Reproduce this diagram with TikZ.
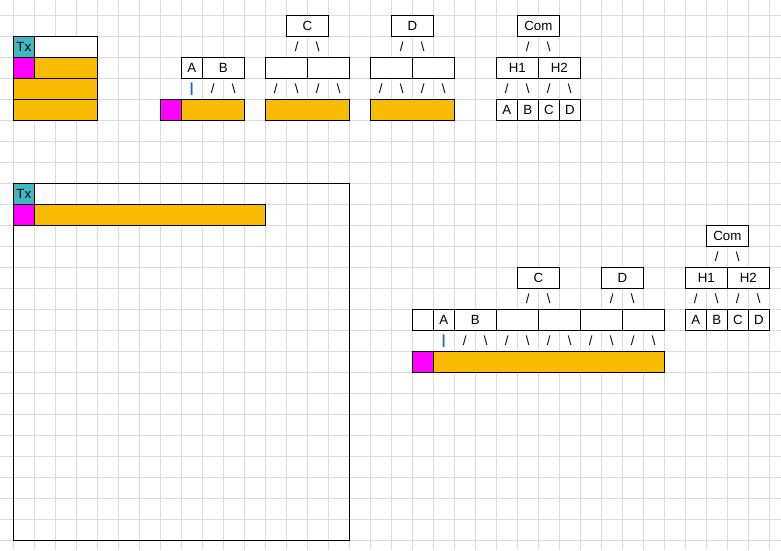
\documentclass[tikz,border=0pt]{standalone}
\usepackage{fontspec}
\setmainfont{Liberation Sans}
\definecolor{gridgray}{RGB}{220,220,220}
\definecolor{txcyan}{RGB}{64,184,196}
\definecolor{barorange}{RGB}{250,188,2}
\definecolor{mgfill}{RGB}{255,0,255}
\definecolor{pipeblue}{RGB}{26,100,200}
\begin{document}
\begin{tikzpicture}[x=0.5cm,y=-0.5cm,
  font=\fontsize{9}{10}\selectfont,
  gridline/.style={draw=gridgray,line width=0.9pt},
  cell/.style={draw=black,line width=1pt,fill=white,minimum height=0.5cm,
    inner sep=0pt,outer sep=0pt,anchor=north west,text=black},
  cols/.style={minimum width=#1*0.5cm},
  tx/.style={cell,fill=txcyan,cols=1},
  mg/.style={cell,fill=mgfill,cols=1},
  org/.style={cell,fill=barorange},
  frame/.style={draw=black,line width=1pt,inner sep=0pt,outer sep=0pt,anchor=north west},
  glyph/.style={inner sep=0pt,text=black},
  pipe/.style={glyph,text=pipeblue,font=\fontsize{9}{10}\selectfont\bfseries}]
\useasboundingbox (-0.633,-0.729) rectangle (36.557,25.462);
% background grid
\foreach \i in {0,...,36} \draw[gridline] (\i,-0.729) -- (\i,25.462);
\foreach \j in {0,...,25} \draw[gridline] (-0.633,\j) -- (36.557,\j);

% --- top-left stack
\node[tx] (txa) at (0,1) {Tx};
\node[cell,cols=3] (hda) at (1,1) {};
\node[mg] (mga) at (0,2) {};
\node[org,cols=3] (ora) at (1,2) {};
\node[org,cols=4] (orb) at (0,3) {};
\node[org,cols=4] (orc) at (0,4) {};

% --- A/B over one bar
\node[cell,cols=1] (ab-a) at (8,2) {A};
\node[cell,cols=2] (ab-b) at (9,2) {B};
\node[pipe] (ab-p) at (8.5,3.5) {|};
\node[glyph] (ab-s1) at (9.5,3.5) {/};
\node[glyph] (ab-s2) at (10.5,3.5) {\textbackslash};
\node[mg] (ab-m) at (7,4) {};
\node[org,cols=3] (ab-o) at (8,4) {};

% --- C subtree
\node[cell,cols=2] (c-top) at (13,0) {C};
\node[glyph] (c-s1) at (13.5,1.5) {/};
\node[glyph] (c-s2) at (14.5,1.5) {\textbackslash};
\node[cell,cols=2] (c-l) at (12,2) {};
\node[cell,cols=2] (c-r) at (14,2) {};
\foreach \k/\x in {1/12.5,3/14.5} \node[glyph] (c-g\k) at (\x,3.5) {/};
\foreach \k/\x in {2/13.5,4/15.5} \node[glyph] (c-g\k) at (\x,3.5) {\textbackslash};
\node[org,cols=4] (c-o) at (12,4) {};

% --- D subtree
\node[cell,cols=2] (d-top) at (18,0) {D};
\node[glyph] (d-s1) at (18.5,1.5) {/};
\node[glyph] (d-s2) at (19.5,1.5) {\textbackslash};
\node[cell,cols=2] (d-l) at (17,2) {};
\node[cell,cols=2] (d-r) at (19,2) {};
\foreach \k/\x in {1/17.5,3/19.5} \node[glyph] (d-g\k) at (\x,3.5) {/};
\foreach \k/\x in {2/18.5,4/20.5} \node[glyph] (d-g\k) at (\x,3.5) {\textbackslash};
\node[org,cols=4] (d-o) at (17,4) {};

% --- Com tree (top)
\node[cell,cols=2] (ct-com) at (24,0) {Com};
\node[glyph] (ct-s1) at (24.5,1.5) {/};
\node[glyph] (ct-s2) at (25.5,1.5) {\textbackslash};
\node[cell,cols=2] (ct-h1) at (23,2) {H1};
\node[cell,cols=2] (ct-h2) at (25,2) {H2};
\foreach \k/\x in {1/23.5,3/25.5} \node[glyph] (ct-g\k) at (\x,3.5) {/};
\foreach \k/\x in {2/24.5,4/26.5} \node[glyph] (ct-g\k) at (\x,3.5) {\textbackslash};
\foreach \t/\x in {A/23,B/24,C/25,D/26} \node[cell,cols=1] (ct-\t) at (\x,4) {\t};

% --- large frame
\node[frame,minimum width=8cm,minimum height=8.5cm] (big) at (0,8) {};
\node[tx] (txb) at (0,8) {Tx};
\node[mg] (mgb) at (0,9) {};
\node[org,cols=11] (orbig) at (1,9) {};

% --- Com tree (bottom right)
\node[cell,cols=2] (cb-com) at (33,10) {Com};
\node[glyph] (cb-s1) at (33.5,11.5) {/};
\node[glyph] (cb-s2) at (34.5,11.5) {\textbackslash};
\node[cell,cols=2] (cb-h1) at (32,12) {H1};
\node[cell,cols=2] (cb-h2) at (34,12) {H2};
\foreach \k/\x in {1/32.5,3/34.5} \node[glyph] (cb-g\k) at (\x,13.5) {/};
\foreach \k/\x in {2/33.5,4/35.5} \node[glyph] (cb-g\k) at (\x,13.5) {\textbackslash};
\foreach \t/\x in {A/32,B/33,C/34,D/35} \node[cell,cols=1] (cb-\t) at (\x,14) {\t};

% --- long row with C and D parents
\node[cell,cols=2] (lr-c) at (24,12) {C};
\node[cell,cols=2] (lr-d) at (28,12) {D};
\node[glyph] (lr-c1) at (24.5,13.5) {/};
\node[glyph] (lr-c2) at (25.5,13.5) {\textbackslash};
\node[glyph] (lr-d1) at (28.5,13.5) {/};
\node[glyph] (lr-d2) at (29.5,13.5) {\textbackslash};
\node[cell,cols=1] (lr-e) at (19,14) {};
\node[cell,cols=1] (lr-a) at (20,14) {A};
\node[cell,cols=2] (lr-b) at (21,14) {B};
\node[cell,cols=2] (lr-k1) at (23,14) {};
\node[cell,cols=2] (lr-k2) at (25,14) {};
\node[cell,cols=2] (lr-k3) at (27,14) {};
\node[cell,cols=2] (lr-k4) at (29,14) {};
\node[pipe] (lr-p) at (20.5,15.5) {|};
\foreach \k/\x in {1/21.5,3/23.5,5/25.5,7/27.5,9/29.5} \node[glyph] (lr-g\k) at (\x,15.5) {/};
\foreach \k/\x in {2/22.5,4/24.5,6/26.5,8/28.5,10/30.5} \node[glyph] (lr-g\k) at (\x,15.5) {\textbackslash};
\node[mg] (lr-m) at (19,16) {};
\node[org,cols=11] (lr-o) at (20,16) {};
\end{tikzpicture}
\end{document}
